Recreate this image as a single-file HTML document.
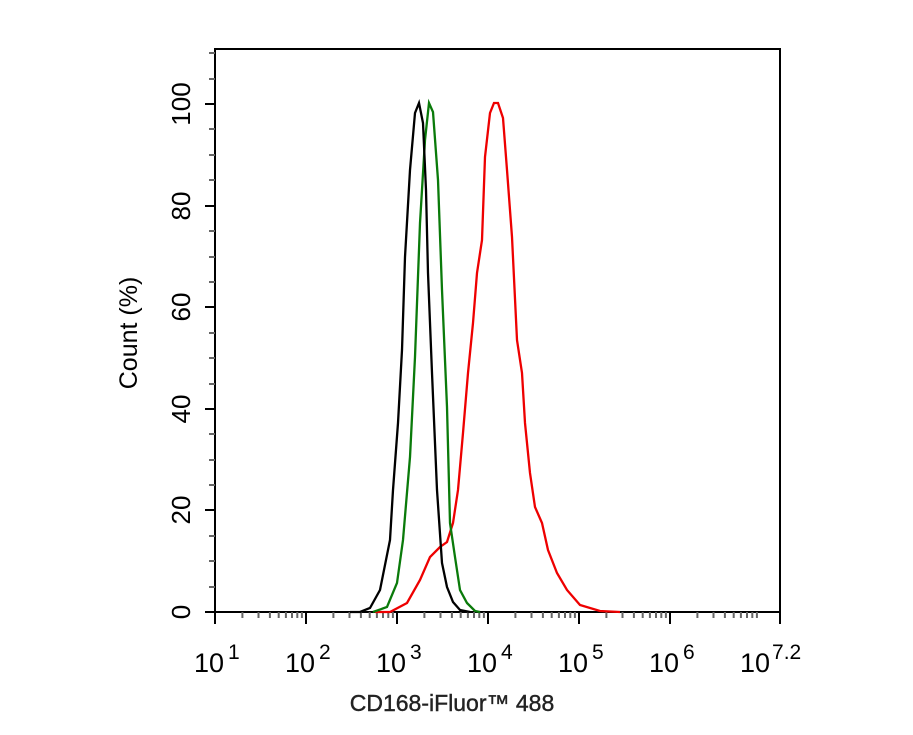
<!DOCTYPE html>
<html><head><style>body{margin:0;background:#fff}</style></head><body>
<svg width="913" height="730" xmlns="http://www.w3.org/2000/svg" font-family="Liberation Sans, Arial, sans-serif">
<rect width="913" height="730" fill="#fff"/>
<rect x="215" y="49" width="565" height="563" fill="none" stroke="#000" stroke-width="2"/>
<g stroke="#666" stroke-width="2">
<path d="M209 587H215M209 561H215M209 536H215M209 485H215M209 460H215M209 434H215M209 384H215M209 358H215M209 333H215M209 282H215M209 257H215M209 231H215M209 180H215M209 155H215M209 129H215M209 79H215M209 53H215"/>
</g>
<g stroke="#000" stroke-width="2">
<path d="M205 612H215M205 510H215M205 409H215M205 307H215M205 206H215M205 104H215"/>
<path d="M215 612V624M306 612V624M397 612V624M488 612V624M579 612V624M670 612V624M780 612V624"/>
</g>
<g stroke="#666" stroke-width="2">
<path d="M242.4 612V618M258.5 612V618M269.9 612V618M278.7 612V618M285.9 612V618M292 612V618M297.3 612V618M301.9 612V618
M333.4 612V618M349.5 612V618M360.9 612V618M369.7 612V618M376.9 612V618M383 612V618M388.3 612V618M392.9 612V618
M424.4 612V618M440.5 612V618M451.9 612V618M460.7 612V618M467.9 612V618M474 612V618M479.3 612V618M483.9 612V618
M515.4 612V618M531.5 612V618M542.9 612V618M551.7 612V618M558.9 612V618M565 612V618M570.3 612V618M574.9 612V618
M606.4 612V618M622.5 612V618M633.9 612V618M642.7 612V618M649.9 612V618M656 612V618M661.3 612V618M665.9 612V618
M697.4 612V618M713.5 612V618M724.9 612V618M733.7 612V618M740.9 612V618M747 612V618M752.3 612V618M756.9 612V618"/>
</g>
<g font-size="26" text-anchor="middle">
<text transform="translate(190,612) rotate(-90)">0</text>
<text transform="translate(190,510) rotate(-90)">20</text>
<text transform="translate(190,409) rotate(-90)">40</text>
<text transform="translate(190,307) rotate(-90)">60</text>
<text transform="translate(190,206) rotate(-90)">80</text>
<text transform="translate(190,104) rotate(-90)">100</text>
<text transform="translate(137,333) rotate(-90)" font-size="25">Count  (%)</text>
</g>
<g font-size="27">
<text x="194" y="672">10<tspan dx="4" dy="-13" font-size="21">1</tspan></text>
<text x="285" y="672">10<tspan dx="4" dy="-13" font-size="21">2</tspan></text>
<text x="376" y="672">10<tspan dx="4" dy="-13" font-size="21">3</tspan></text>
<text x="467" y="672">10<tspan dx="4" dy="-13" font-size="21">4</tspan></text>
<text x="558" y="672">10<tspan dx="4" dy="-13" font-size="21">5</tspan></text>
<text x="649" y="672">10<tspan dx="4" dy="-13" font-size="21">6</tspan></text>
<text x="740" y="672">10<tspan dx="2" dy="-13" font-size="21">7.2</tspan></text>
</g>
<text x="452" y="711" font-size="23" text-anchor="middle" fill="#222" stroke="#222" stroke-width="0.4">CD168-iFluor™ 488</text>
<polyline fill="none" stroke="#e00" stroke-width="2.3" points="375,612 390,612 407,603 420,580 430,557 440,547 447,542 453,523 458,490 463,433 468,373 473,323 477,273 482,240 485,157 490,113 494,103 498,103 503,118 507,170 512,237 517,340 522,373 525,423 530,473 535,507 542,523 548,550 557,573 567,590 580,605 600,611 620,612"/>
<polyline fill="none" stroke="#0a7a0a" stroke-width="2.3" points="373,612 387,607 397,583 403,540 410,457 415,357 420,223 425,140 429,103 433,112 438,180 442,290 447,407 450,523 455,557 460,590 467,603 475,611 480,612"/>
<polyline fill="none" stroke="#000" stroke-width="2.3" points="350,612 360,612 370,608 380,590 390,540 393,490 398,423 402,350 405,257 410,170 415,113 419,103 423,123 426,190 428,273 432,373 437,490 442,563 447,587 453,602 460,610 470,612"/>
</svg>
</body></html>
